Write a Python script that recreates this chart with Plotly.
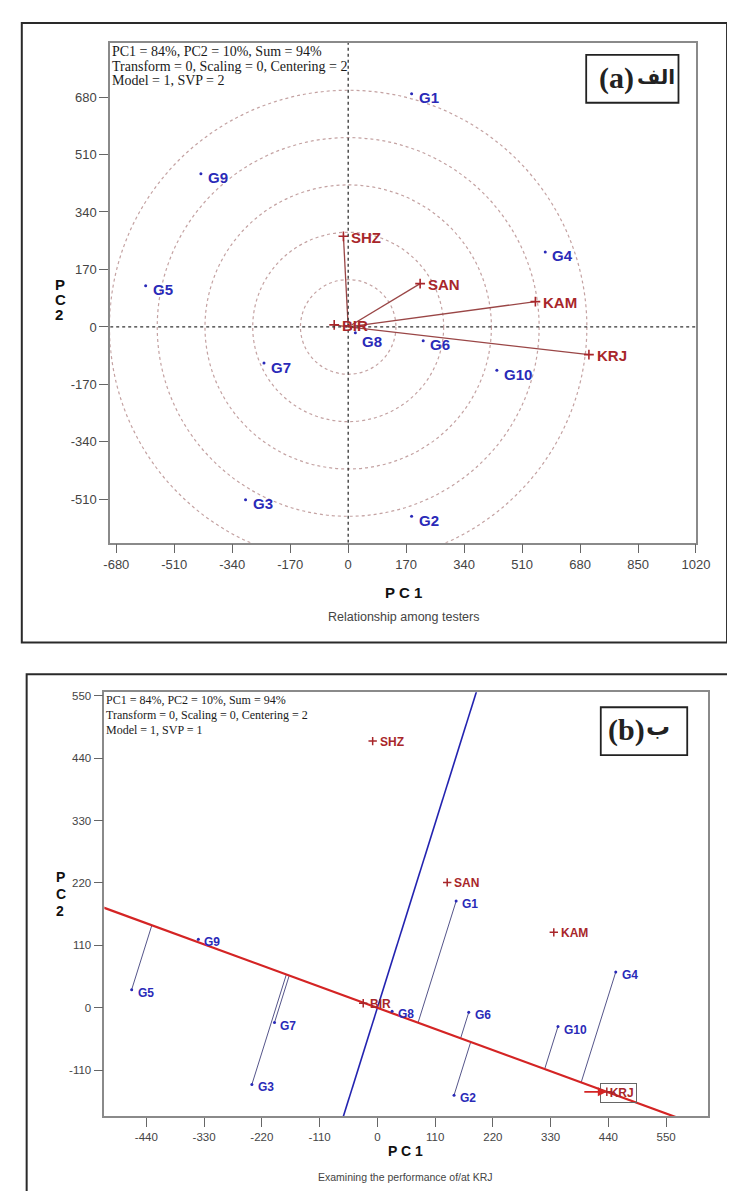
import plotly.graph_objects as go

W, H = 735, 1191

# ---------------- data ----------------
genotypes = ["G1", "G2", "G3", "G4", "G5", "G6", "G7", "G8", "G9", "G10"]
testers = ["SHZ", "BIR", "SAN", "KAM", "KRJ"]

# panel (a): relationship among testers
a_geno_pc1 = [186, 186, -301, 578, -594, 220, -247, 21, -432, 436]
a_geno_pc2 = [690, -560, -511, 222, 122, -41, -107, -17, 453, -128]
a_test_pc1 = [-14, -41, 211, 549, 706]
a_test_pc2 = [268, 6, 128, 75, -82]
a_circle_radii = [140, 280, 420, 560, 700]
a_xticks = [-680, -510, -340, -170, 0, 170, 340, 510, 680, 850, 1020]
a_yticks = [-510, -340, -170, 0, 170, 340, 510, 680]

# panel (b): examining the performance of/at KRJ
b_geno_pc1 = [150, 146, -239, 454, -468, 174, -196, 28, -341, 344]
b_geno_pc2 = [188, -154, -135, 63, 32, -8, -26, -6, 121, -33]
b_test_pc1 = [-9, -27, 133, 336, 437]
b_test_pc2 = [470, 8, 221, 133, -148]
b_xticks = [-440, -330, -220, -110, 0, 110, 220, 330, 440, 550]
b_yticks = [-110, 0, 110, 220, 330, 440, 550]

info_a = ["PC1 = 84%, PC2 = 10%, Sum = 94%",
          "Transform = 0, Scaling = 0, Centering = 2",
          "Model = 1, SVP = 2"]
info_b = ["PC1 = 84%, PC2 = 10%, Sum = 94%",
          "Transform = 0, Scaling = 0, Centering = 2",
          "Model = 1, SVP = 1"]

# ---------------- styles ----------------
BLUE = "#2a2ab8"
RED = "#a8262a"
VEC = "#9a4646"
SANS = "Liberation Sans, Arial, sans-serif"
SERIF = "Liberation Serif, Times New Roman, serif"
ARAB = "DejaVu Sans, sans-serif"


def px_x(p):
    return p / W


def px_y(p):
    return 1 - p / H


A_X = [-698, 1020]
A_Y = [-638, 840]
B_X = [-520, 629]
B_Y = [-191, 556]

fig = go.Figure()

# ---------- panel a ----------
vx, vy = [], []
for x, y in zip(a_test_pc1, a_test_pc2):
    vx += [0, x, None]
    vy += [0, y, None]
fig.add_trace(go.Scatter(x=vx, y=vy, mode="lines", line=dict(color=VEC, width=1.3),
                         xaxis="x", yaxis="y", hoverinfo="skip"))
fig.add_trace(go.Scatter(x=a_test_pc1, y=a_test_pc2, mode="markers",
                         marker=dict(symbol="cross-thin", size=7, line=dict(color=RED, width=1.6)),
                         xaxis="x", yaxis="y"))
fig.add_trace(go.Scatter(x=a_geno_pc1, y=a_geno_pc2, mode="markers",
                         marker=dict(symbol="circle", size=3, color=BLUE),
                         xaxis="x", yaxis="y"))

# ---------- panel b ----------
kx, ky = b_test_pc1[testers.index("KRJ")], b_test_pc2[testers.index("KRJ")]
norm = (kx ** 2 + ky ** 2) ** 0.5
ux, uy = kx / norm, ky / norm
px_, py_ = [], []
for gx, gy in zip(b_geno_pc1, b_geno_pc2):
    d = gx * ux + gy * uy
    px_ += [gx, d * ux, None]
    py_ += [gy, d * uy, None]
fig.add_trace(go.Scatter(x=px_, y=py_, mode="lines", line=dict(color="#55558a", width=1),
                         xaxis="x2", yaxis="y2", hoverinfo="skip"))
fig.add_trace(go.Scatter(x=[-2 * -ky, 2 * -ky], y=[-2 * kx, 2 * kx], mode="lines",
                         line=dict(color="#2323b0", width=1.6), xaxis="x2", yaxis="y2"))
fig.add_trace(go.Scatter(x=[-2 * kx, 2 * kx], y=[-2 * ky, 2 * ky], mode="lines",
                         line=dict(color="#d42424", width=2.2), xaxis="x2", yaxis="y2"))
fig.add_trace(go.Scatter(x=b_test_pc1, y=b_test_pc2, mode="markers",
                         marker=dict(symbol="cross-thin", size=6, line=dict(color=RED, width=1.5)),
                         xaxis="x2", yaxis="y2"))
fig.add_trace(go.Scatter(x=b_geno_pc1, y=b_geno_pc2, mode="markers",
                         marker=dict(symbol="circle", size=3, color=BLUE),
                         xaxis="x2", yaxis="y2"))

shapes = []
shapes.append(dict(type="rect", xref="paper", yref="paper", x0=px_x(7), x1=px_x(733),
                   y0=px_y(633), y1=px_y(12), line=dict(color="#2a2a2a", width=2)))
shapes.append(dict(type="rect", xref="paper", yref="paper", x0=px_x(12), x1=px_x(745),
                   y0=px_y(1200), y1=px_y(665), line=dict(color="#2a2a2a", width=2)))
for r in a_circle_radii:
    shapes.append(dict(type="circle", xref="x", yref="y", x0=-r, x1=r, y0=-r, y1=r,
                       line=dict(color="#c4a2a2", width=1.2, dash="dot"), layer="below"))
shapes.append(dict(type="line", xref="x", yref="y", x0=A_X[0], x1=A_X[1], y0=0, y1=0,
                   line=dict(color="#333", width=1.3, dash="dot")))
shapes.append(dict(type="line", xref="x", yref="y", x0=0, x1=0, y0=A_Y[0], y1=A_Y[1],
                   line=dict(color="#333", width=1.3, dash="dot")))
shapes.append(dict(type="rect", xref="paper", yref="paper", x0=px_x(588), x1=px_x(683),
                   y0=px_y(92), y1=px_y(44), line=dict(color="#222", width=1.8)))
shapes.append(dict(type="rect", xref="paper", yref="paper", x0=px_x(603), x1=px_x(692),
                   y0=px_y(746), y1=px_y(698), line=dict(color="#222", width=1.8)))

ann = []
for name, x, y in zip(genotypes, a_geno_pc1, a_geno_pc2):
    shift_y = -9 if name == "G8" else -4
    ann.append(dict(x=x, y=y, xref="x", yref="y", text=name, showarrow=False, xanchor="left",
                    yanchor="middle", xshift=5, yshift=shift_y,
                    font=dict(family=SANS, size=15, color=BLUE, weight="bold")))
for name, x, y in zip(testers, a_test_pc1, a_test_pc2):
    ann.append(dict(x=x, y=y, xref="x", yref="y", text=name, showarrow=False, xanchor="left",
                    yanchor="middle", xshift=6, yshift=-1,
                    font=dict(family=SANS, size=15, color=RED, weight="bold")))
for name, x, y in zip(genotypes, b_geno_pc1, b_geno_pc2):
    ann.append(dict(x=x, y=y, xref="x2", yref="y2", text=name, showarrow=False, xanchor="left",
                    yanchor="middle", xshift=4, yshift=-3,
                    font=dict(family=SANS, size=12, color=BLUE, weight="bold")))
for name, x, y in zip(testers, b_test_pc1, b_test_pc2):
    if name == "KRJ":
        ann.append(dict(x=x, y=y, xref="x2", yref="y2", text="  " + name, showarrow=False,
                        xanchor="left", yanchor="middle", xshift=-7, yshift=-1,
                        bordercolor="#666", borderwidth=1, borderpad=2,
                        font=dict(family=SANS, size=12, color=RED, weight="bold")))
        ann.append(dict(x=x, y=y, xref="x2", yref="y2", ax=-24, ay=0, text="", showarrow=True,
                        arrowhead=2, arrowsize=1, arrowwidth=1.8, arrowcolor="#d42424"))
    else:
        ann.append(dict(x=x, y=y, xref="x2", yref="y2", text=name, showarrow=False,
                        xanchor="left", yanchor="middle", xshift=5, yshift=-1,
                        font=dict(family=SANS, size=12, color=RED, weight="bold")))

for i, t in enumerate(info_a):
    ann.append(dict(x=px_x(98), y=px_y(41 + 14.5 * i), xref="paper", yref="paper", text=t,
                    showarrow=False, xanchor="left", yanchor="middle",
                    font=dict(family=SERIF, size=14, color="#1a1a1a")))
for i, t in enumerate(info_b):
    ann.append(dict(x=px_x(92), y=px_y(691 + 15 * i), xref="paper", yref="paper", text=t,
                    showarrow=False, xanchor="left", yanchor="middle",
                    font=dict(family=SERIF, size=12, color="#1a1a1a")))

# panel tags: latin part and Arabic part
ann.append(dict(x=px_x(639), y=px_y(67), xref="paper", yref="paper", text="(a)",
                showarrow=False, xanchor="right", yanchor="middle",
                font=dict(family=SERIF, size=30, color="#222", weight="bold")))
ann.append(dict(x=px_x(638), y=px_y(66), xref="paper", yref="paper", text="الف",
                showarrow=False, xanchor="left", yanchor="middle",
                font=dict(family=ARAB, size=20, color="#222", weight="bold")))
ann.append(dict(x=px_x(651), y=px_y(721), xref="paper", yref="paper", text="(b)",
                showarrow=False, xanchor="right", yanchor="middle",
                font=dict(family=SERIF, size=30, color="#222", weight="bold")))
ann.append(dict(x=px_x(648), y=px_y(718), xref="paper", yref="paper", text="ب",
                showarrow=False, xanchor="left", yanchor="middle",
                font=dict(family=ARAB, size=24, color="#222", weight="bold")))

ann.append(dict(x=px_x(400), y=px_y(583), xref="paper", yref="paper", text="P C 1",
                showarrow=False, font=dict(family=SANS, size=15, color="#111", weight="bold")))
ann.append(dict(x=px_x(400), y=px_y(608), xref="paper", yref="paper", text="Relationship among testers",
                showarrow=False, font=dict(family=SANS, size=12.5, color="#444")))
for i, ch in enumerate(["P", "C", "2"]):
    ann.append(dict(x=px_x(39), y=px_y(264 + 15 * i), xref="paper", yref="paper", text=ch,
                    showarrow=False, font=dict(family=SANS, size=15, color="#111", weight="bold")))
ann.append(dict(x=px_x(402), y=px_y(1153), xref="paper", yref="paper", text="P C 1",
                showarrow=False, font=dict(family=SANS, size=14, color="#111", weight="bold")))
ann.append(dict(x=px_x(402), y=px_y(1177), xref="paper", yref="paper",
                text="Examining the performance of/at KRJ",
                showarrow=False, font=dict(family=SANS, size=10.5, color="#444")))
for i, ch in enumerate(["P", "C", "2"]):
    ann.append(dict(x=px_x(40), y=px_y(878 + 17 * i), xref="paper", yref="paper", text=ch,
                    showarrow=False, font=dict(family=SANS, size=14, color="#111", weight="bold")))


def axis(domain, rng, ticks, anchor, fsize):
    return dict(domain=domain, range=rng, tickvals=ticks, ticktext=[str(v) for v in ticks],
                anchor=anchor, showgrid=False, zeroline=False, showline=True, mirror=True,
                linecolor="#8a8a8a", linewidth=1.6, ticks="outside", ticklen=9,
                tickcolor="#666", tickwidth=1.4,
                tickfont=dict(family=SANS, size=fsize, color="#444"))


fig.update_layout(
    width=W, height=H, margin=dict(l=0, r=0, t=0, b=0),
    paper_bgcolor="white", plot_bgcolor="white", showlegend=False,
    xaxis=axis([px_x(98), px_x(701)], A_X, a_xticks, "y", 13),
    yaxis=axis([px_y(533), px_y(32)], A_Y, a_yticks, "x", 13),
    xaxis2=axis([px_x(92), px_x(713)], B_X, b_xticks, "y2", 11.5),
    yaxis2=axis([px_y(1108), px_y(683)], B_Y, b_yticks, "x2", 11.5),
    shapes=shapes, annotations=ann,
)

fig.write_html("out.html")
